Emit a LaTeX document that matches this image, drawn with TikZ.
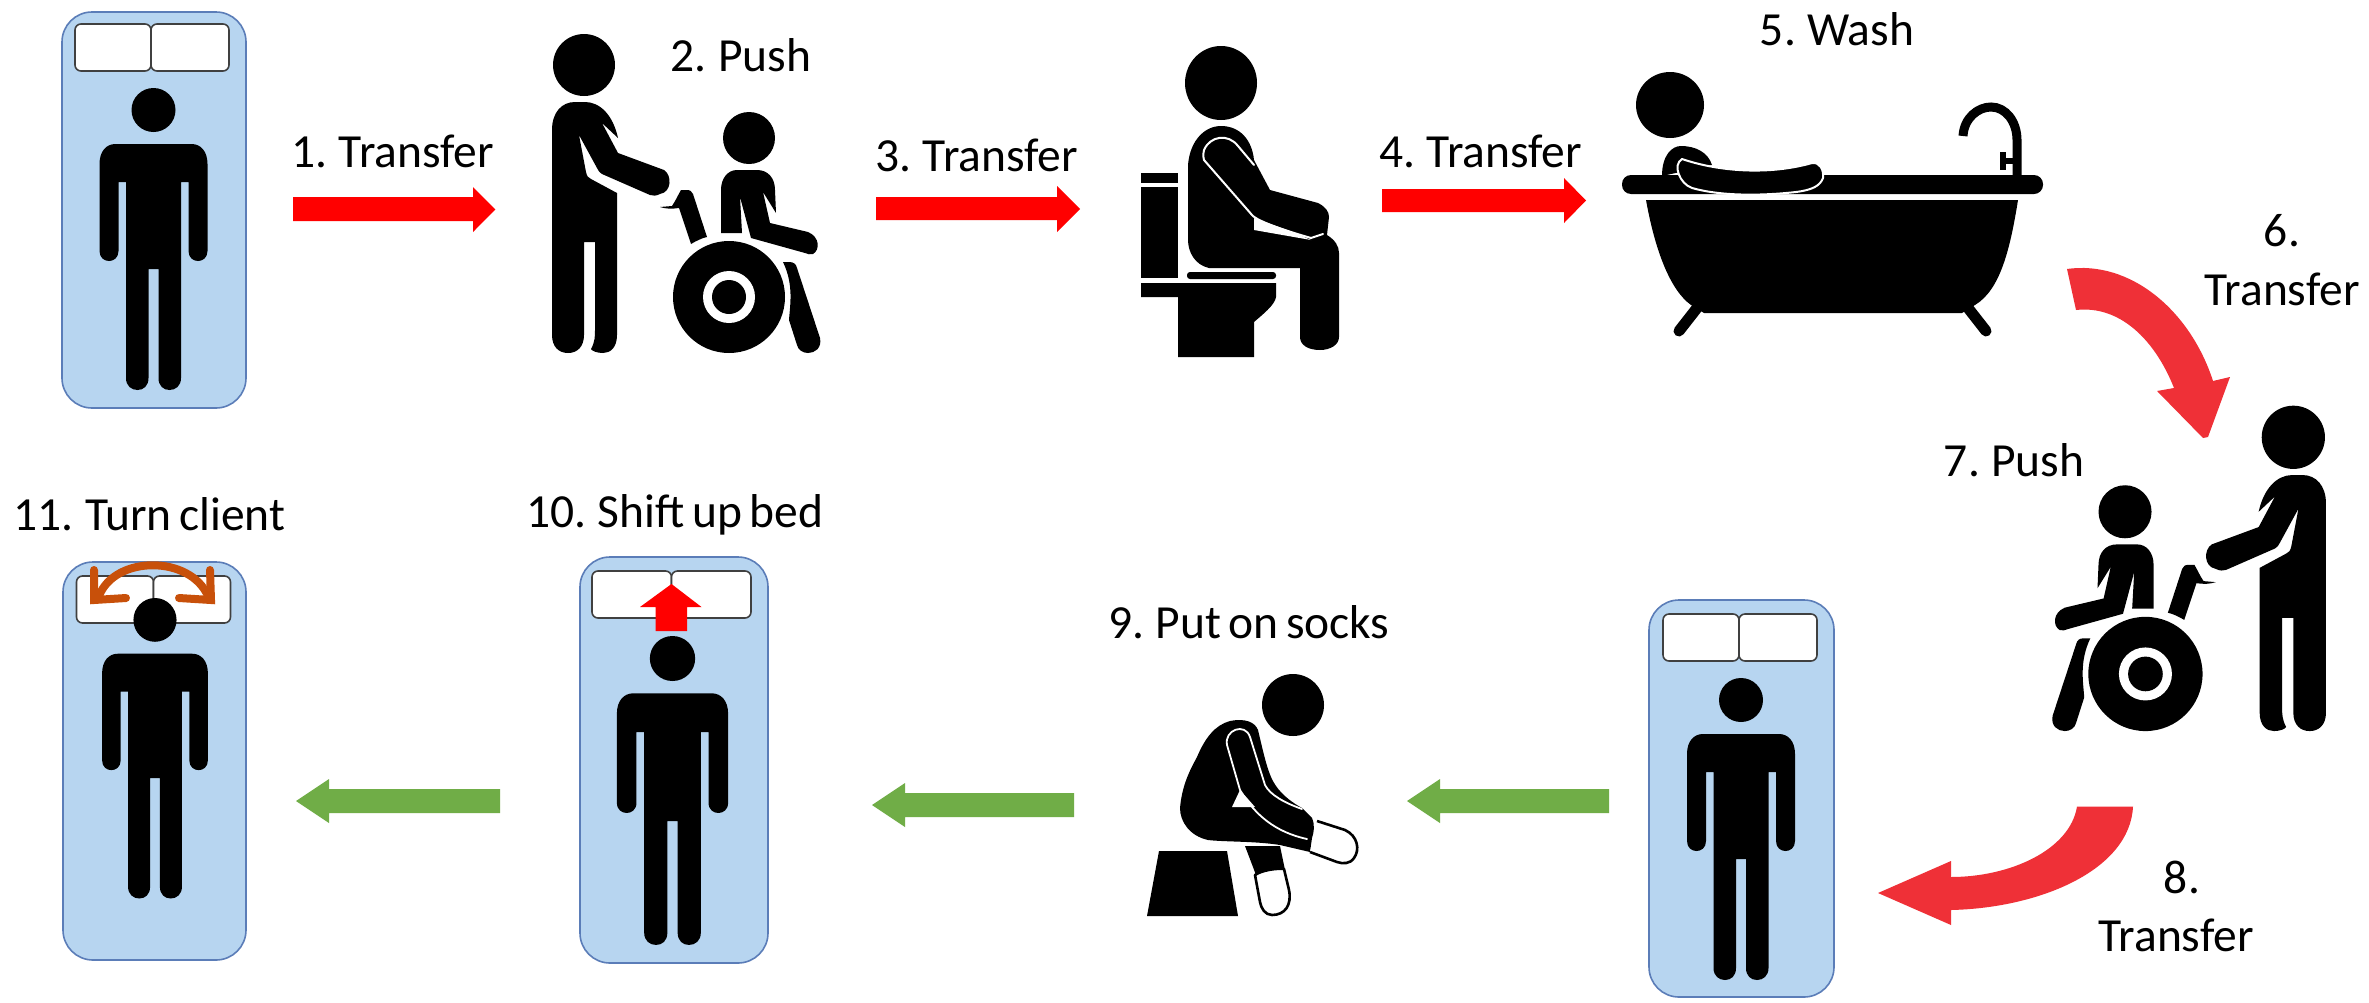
\documentclass[tikz,border=0pt]{standalone}
\usepackage{fontspec}
\setmainfont[WordSpace=0.7]{Carlito}
\definecolor{bedblue}{HTML}{B7D5F0}
\definecolor{bededge}{HTML}{5B7DB8}
\definecolor{curvered}{HTML}{EF3037}
\definecolor{arrowgreen}{HTML}{70AD47}
\definecolor{turnorange}{HTML}{C8500A}
\tikzset{
  lbl/.style={inner sep=0pt,anchor=base,font=\fontsize{47.5}{50}\selectfont,text=black},
  mattress/.style={draw=bededge,line width=1.6pt,fill=bedblue,rounded corners=30pt},
  pillow/.style={draw=black!75,line width=1.6pt,fill=white,rounded corners=6pt},
  sil/.style={fill=black},
  gapline/.style={draw=white,line width=2pt,line join=round,line cap=round},
  redblock/.style={fill=red},
  greenblock/.style={fill=arrowgreen},
  curveblock/.style={fill=curvered},
  sockline/.style={draw=black,line width=2.6pt,fill=white,line join=round}
}
% bed: x1 y1 x2 y2 ; pillows px1 py1 pxmid px2 py2
\newcommand{\bedbase}[9]{%
  \path[mattress] (#1,#2) rectangle (#3,#4);
  \path[pillow] (#5,#6) rectangle (#7,#9);
  \path[pillow] (#7,#6) rectangle (#8,#9);
}
% person: cx top sx sy
\newcommand{\personfig}[4]{%
  \begin{scope}[shift={(#1,#2)},xscale=#3,yscale=#4]
    \fill[sil] (0,22) ellipse [x radius=22,y radius=22];
    \fill[sil] (-54,76) .. controls (-54,63) and (-47,56) .. (-38,56) -- (38,56)
      .. controls (47,56) and (54,63) .. (54,76) -- (54,163)
      .. controls (54,170) and (49,173) .. (44.5,173) .. controls (40,173) and (35,170) .. (35,163)
      -- (35,94) -- (27.5,94) -- (27.5,290)
      .. controls (27.5,298) and (22,302) .. (16,302) .. controls (10,302) and (5,298) .. (5,290)
      -- (5,181) -- (-5,181) -- (-5,290)
      .. controls (-5,298) and (-10,302) .. (-16,302) .. controls (-22,302) and (-27.5,298) .. (-27.5,290)
      -- (-27.5,94) -- (-35,94) -- (-35,163)
      .. controls (-35,170) and (-40,173) .. (-44.5,173) .. controls (-49,173) and (-54,170) .. (-54,163)
      -- cycle;
  \end{scope}
}
% caregiver + wheelchair user, drawn in the coordinates of figure 2
\newcommand{\wheelpair}{%
  \fill[sil] (584,65) ellipse [x radius=31,y radius=31];
  \fill[sil] (552,130) .. controls (552,112) and (562,102) .. (575,102) -- (585,102)
    .. controls (600,102) and (613,115) .. (618,138) -- (602,123) -- (618,153) -- (664,170)
    .. controls (672,175) and (672,192) .. (660,194) .. controls (656,196) and (653,196) .. (650,195)
    -- (602,174) .. controls (599,172) and (598,170) .. (597,168) -- (579,135) -- (586,172)
    .. controls (587,176) and (588,178) .. (591,179) -- (617,193) -- (617,335)
    .. controls (617,348) and (610,353) .. (603,353) .. controls (597,353) and (592,351) .. (591,349)
    .. controls (595,342) and (595,336) .. (595,330) -- (595,242) -- (584,242) -- (584,335)
    .. controls (584,347) and (577,353) .. (568,353) .. controls (559,353) and (552,347) .. (552,335) -- cycle;
  \fill[sil] (749,138) ellipse [x radius=26,y radius=26];
  \fill[sil] (721,190) .. controls (721,178) and (728,170) .. (737,170) -- (757,170)
    .. controls (768,170) and (775,178) .. (775,190) -- (776,213) -- (763,192) -- (770,223) -- (808,232)
    .. controls (820,237) and (820,250) .. (813,254) .. controls (810,255) and (808,254) .. (805,253)
    -- (751,238) -- (740,197) -- (742,233) -- (721,233) -- cycle;
  \fill[sil] (729,297) circle [radius=56];
  \fill[white] (729,297) circle [radius=26];
  \fill[sil] (729,297) circle [radius=17];
  \fill[sil] (660,207) -- (672,206) .. controls (676,200) and (678,195) .. (681,190) -- (686,190)
    .. controls (690,190) and (692,191) .. (693,194) -- (707,237) .. controls (702,238) and (696,241) .. (691,244)
    -- (679,208) .. controls (672,209) and (666,209) .. (660,207) -- cycle;
  \fill[sil] (783,262) -- (789,262) .. controls (794,262) and (796,264) .. (797,268) -- (820,338)
    .. controls (822,348) and (815,353) .. (808,353) .. controls (803,353) and (798,350) .. (797,345)
    -- (789,320) .. controls (790,305) and (794,285) .. (783,262) -- cycle;
}
\begin{document}
\begin{tikzpicture}[x=1pt,y=-1pt]
\useasboundingbox (0,0) rectangle (2369,1002);
\fill[white] (0,0) rectangle (2369,1002);

% ---------- beds
\bedbase{62}{12}{246}{408}{75}{24}{151}{229}{71}
\personfig{153.5}{88}{1}{1}

\bedbase{63}{562}{246}{960}{76.5}{576}{153.5}{230.5}{623}
\personfig{155}{598}{0.98}{0.995}

\bedbase{580}{557}{768}{963}{592}{571}{671.5}{751}{618}
\personfig{672.5}{636}{1.03}{1.023}

\bedbase{1649}{600}{1834}{997}{1663}{614}{1739}{1817}{661}
\personfig{1741}{678}{1.0}{1.0}

% ---------- shift-up arrow on bed 10
\path[redblock] (671.5,584) -- (701.5,607) -- (687,607) -- (687,631) -- (655.6,631) -- (655.6,607) -- (640,607) -- cycle;

% ---------- turn-client arrow on bed 11
\draw[turnorange,line width=8pt,line cap=round,line join=round]
  (99,596) .. controls (115,555) and (190,555) .. (208,596);
\draw[turnorange,line width=8pt,line cap=round,line join=miter]
  (94,570) -- (94,600) -- (126,598);
\draw[turnorange,line width=8pt,line cap=round,line join=miter]
  (210,570) -- (211,600) -- (179,598);

% ---------- wheelchair figures
\wheelpair
\begin{scope}[shift={(2889,371)},xscale=-1.02,yscale=1.02]
  \wheelpair
\end{scope}

% ---------- toilet figure
\fill[sil] (1221,83) ellipse [x radius=36,y radius=37];
\fill[sil] (1188,165) .. controls (1190,140) and (1205,126) .. (1221,126)
  .. controls (1240,126) and (1252,140) .. (1254,160) -- (1270,190) -- (1318,203)
  .. controls (1326,207) and (1329,212) .. (1329,217) -- (1327,235)
  .. controls (1335,240) and (1339,246) .. (1339,253) -- (1339,337)
  .. controls (1339,345) and (1330,350) .. (1320,350) .. controls (1308,350) and (1300,345) .. (1300,337)
  -- (1300,268) -- (1209,268) .. controls (1195,265) and (1188,252) .. (1188,240) -- cycle;
\draw[gapline] (1254,165) -- (1238,146) .. controls (1228,133) and (1210,136) .. (1204,150)
  .. controls (1203,155) and (1203,158) .. (1204,160) -- (1252,215)
  .. controls (1258,222) and (1290,232) .. (1311,238) -- (1323,234);
\fill[white] (1254,218) -- (1254,230) -- (1311,240) -- (1290,231) -- cycle;
\fill[sil] (1141,173) rectangle (1178,183);
\fill[sil] (1141,187) rectangle (1178,278);
\fill[sil,rounded corners=3pt] (1187,272) rectangle (1276,279);
\fill[sil] (1141,283) -- (1276,283) -- (1276,297) .. controls (1275,305) and (1262,315) .. (1254,322)
  -- (1254,357) -- (1178,357) -- (1178,297) -- (1141,297) -- cycle;

% ---------- bathtub figure
\fill[sil] (1670,105) ellipse [x radius=34,y radius=33];
\fill[sil] (1662,176) .. controls (1662,155) and (1672,146) .. (1681,146)
  .. controls (1695,146) and (1708,152) .. (1712,165) -- cycle;
\fill[sil,rounded corners=9pt] (1622,175) rectangle (2043,194);
\fill[sil] (1646,200) -- (2018,200) .. controls (2010,250) and (2000,290) .. (1975,305)
  -- (1962,313) -- (1704,313) -- (1691,305) .. controls (1670,290) and (1655,250) .. (1646,200) -- cycle;
\draw[sil,draw=black,line width=11pt,line cap=round] (1697,308) -- (1679,331);
\draw[sil,draw=black,line width=11pt,line cap=round] (1968,308) -- (1986,331);
\fill[sil,draw=white,line width=2pt,line join=round] (1682,159) .. controls (1720,172) and (1770,175) .. (1812,163)
  .. controls (1820,162) and (1824,170) .. (1823,178) .. controls (1820,186) and (1812,190) .. (1796,192)
  .. controls (1760,196) and (1720,196) .. (1692,188) .. controls (1680,184) and (1672,165) .. (1682,159) -- cycle;
\draw[black,line width=9pt] (1963,136) .. controls (1964,118) and (1978,107) .. (1991,107)
  .. controls (2006,107) and (2017,122) .. (2017,140) -- (2017,176);
\fill[sil] (2000,152) rectangle (2006,170);
\fill[sil] (2000,158) rectangle (2016,164);

% ---------- socks figure
\fill[sil] (1159,851) -- (1227,851) -- (1238,916) -- (1147,916) -- cycle;
\fill[sil] (1293,705) circle [radius=31];
\fill[sil] (1180,808) .. controls (1182,785) and (1190,770) .. (1197,757)
  .. controls (1205,738) and (1215,725) .. (1230,721) .. controls (1245,718) and (1255,722) .. (1258,730)
  .. controls (1264,755) and (1268,775) .. (1276,786) .. controls (1283,796) and (1293,803) .. (1302,808)
  -- (1312,818) .. controls (1315,825) and (1314,832) .. (1312,838)
  -- (1310,852) -- (1280,845) .. controls (1255,841) and (1225,842) .. (1208,840)
  .. controls (1190,836) and (1180,822) .. (1180,808) -- cycle;
\fill[white] (1232,807) -- (1240,790) -- (1255,807) -- cycle;
\draw[gapline,line width=1.8pt] (1240,790) -- (1227,745) .. controls (1224,730) and (1245,722) .. (1250,737)
  -- (1265,785) .. controls (1270,795) and (1285,803) .. (1302,809);
\draw[gapline,line width=1.8pt] (1240,790) .. controls (1255,815) and (1275,832) .. (1307,839);
\fill[sil] (1245,846) -- (1280,846) -- (1285,870) -- (1256,875) -- cycle;
\path[sockline] (1317,821) -- (1345,830) .. controls (1358,836) and (1360,850) .. (1354,858)
  .. controls (1350,864) and (1343,864) .. (1337,862) -- (1310,852);
\path[sockline] (1255,875) .. controls (1262,870) and (1278,868) .. (1284,869) -- (1289,890)
  .. controls (1292,905) and (1285,915) .. (1272,915) .. controls (1265,915) and (1261,908) .. (1260,902) -- cycle;

% ---------- straight red arrows
\path[redblock] (293,197) -- (473,197) -- (473,187) -- (495.4,209.5) -- (473,232) -- (473,221) -- (293,221) -- cycle;
\path[redblock] (876,197) -- (1057,197) -- (1057,186) -- (1080,209) -- (1057,232) -- (1057,220) -- (876,220) -- cycle;
\path[redblock] (1382,189) -- (1564,189) -- (1564,178) -- (1586,200.5) -- (1564,223) -- (1564,212) -- (1382,212) -- cycle;

% ---------- curved red arrows
\path[curveblock] (2067,269) .. controls (2130,260) and (2190,310) .. (2213,381) -- (2230,377)
  -- (2208,437) -- (2203,438) -- (2157,391) -- (2174,388)
  .. controls (2155,340) and (2120,305) .. (2076,310) -- cycle;
\path[curveblock] (2133,806.5) .. controls (2130,870) and (2040,908) .. (1951,910) -- (1951,925)
  -- (1878,893) -- (1951,861) -- (1951,877) .. controls (2010,877) and (2070,850) .. (2077,806.5) -- cycle;

% ---------- green arrows
\path[greenblock] (1609,789) -- (1440,789) -- (1440,779) -- (1407,801) -- (1440,823) -- (1440,813) -- (1609,813) -- cycle;
\path[greenblock] (1074,793) -- (905,793) -- (905,783) -- (872,805) -- (905,827) -- (905,817) -- (1074,817) -- cycle;
\path[greenblock] (500,789) -- (329,789) -- (329,779) -- (296,801) -- (329,823) -- (329,813) -- (500,813) -- cycle;

% ---------- labels
\node[lbl] (t1) at (393,167) {1. Transfer};
\node[lbl] (t2) at (741,71) {2. Push};
\node[lbl] (t3) at (977,171) {3. Transfer};
\node[lbl] (t4) at (1481,167) {4. Transfer};
\node[lbl] (t5) at (1837,45) {5. Wash};
\node[lbl] (t6a) at (2282,246) {6.};
\node[lbl] (t6b) at (2282,305) {Transfer};
\node[lbl] (t7) at (2014,476) {7. Push};
\node[lbl] (t8a) at (2182,893) {8.};
\node[lbl] (t8b) at (2176,951) {Transfer};
\node[lbl] (t9) at (1249,638) {9. Put on socks};
\node[lbl] (t10) at (675,527) {10. Shift up bed};
\node[lbl] (t11) at (149.5,530) {11. Turn client};
\end{tikzpicture}
\end{document}
